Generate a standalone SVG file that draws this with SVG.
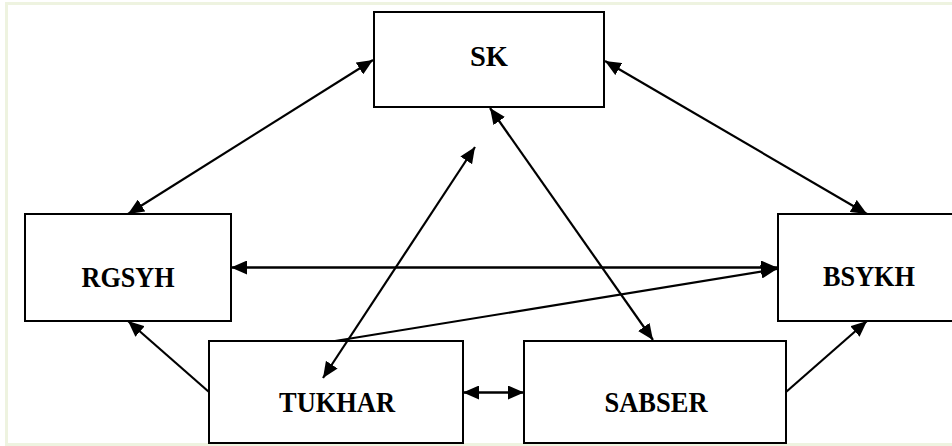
<svg xmlns="http://www.w3.org/2000/svg" width="952" height="446" viewBox="0 0 952 446">
<defs>
<marker id="ah" markerUnits="userSpaceOnUse" markerWidth="16" markerHeight="14" viewBox="0 0 16 14" refX="16" refY="7" orient="auto-start-reverse">
<path d="M0,0 L16,7 L0,14 Z" fill="#000"/>
</marker>
</defs>
<style>
.box{fill:#fff;stroke:#000;stroke-width:2}
.lbl{font-family:"Liberation Serif","Times New Roman",serif;font-weight:bold;font-size:29px;fill:#000;text-anchor:middle}
.c{stroke:#000;stroke-width:2.2;fill:none}
.bi{marker-start:url(#ah);marker-end:url(#ah)}
.one{marker-end:url(#ah)}
</style>
<rect x="0" y="0" width="952" height="446" fill="#fff"/>
<g id="frame" fill="#eef3e0">
<rect x="5" y="2" width="947" height="3"/>
<rect x="5" y="2" width="3" height="444"/>
<rect x="5" y="443" width="947" height="3"/>
</g>
<g id="node-sk"><rect class="box" x="374" y="12" width="230" height="95"/><text class="lbl" x="489" y="66" textLength="38" lengthAdjust="spacingAndGlyphs">SK</text></g>
<g id="node-rgsyh"><rect class="box" x="25" y="214" width="206" height="107"/><text class="lbl" x="128" y="287" textLength="93" lengthAdjust="spacingAndGlyphs">RGSYH</text></g>
<g id="node-bsykh"><rect class="box" x="778" y="214" width="180" height="107"/><text class="lbl" x="869" y="286" textLength="92" lengthAdjust="spacingAndGlyphs">BSYKH</text></g>
<g id="node-tukhar"><rect class="box" x="209" y="341" width="254" height="102"/><text class="lbl" x="337" y="412" textLength="116" lengthAdjust="spacingAndGlyphs">TUKHAR</text></g>
<g id="node-sabser"><rect class="box" x="524" y="341" width="262" height="102"/><text class="lbl" x="656" y="412" textLength="103" lengthAdjust="spacingAndGlyphs">SABSER</text></g>
<g id="connectors">
<line class="c bi" x1="373" y1="60" x2="128" y2="214"/>
<line class="c bi" x1="605" y1="61" x2="867" y2="214"/>
<line class="c bi" x1="490" y1="108" x2="653" y2="340"/>
<line class="c bi" x1="475" y1="147" x2="323" y2="378"/>
<line class="c bi" x1="231" y1="267.5" x2="777" y2="267.5" style="stroke-width:2.6"/>
<line class="c one" x1="335" y1="341" x2="777" y2="269"/>
<line class="c one" x1="209" y1="392" x2="128" y2="321"/>
<line class="c one" x1="786" y1="392" x2="867" y2="321"/>
<line class="c bi" x1="463" y1="392.5" x2="524" y2="392.5" style="stroke-width:2.6"/>
</g>
</svg>
